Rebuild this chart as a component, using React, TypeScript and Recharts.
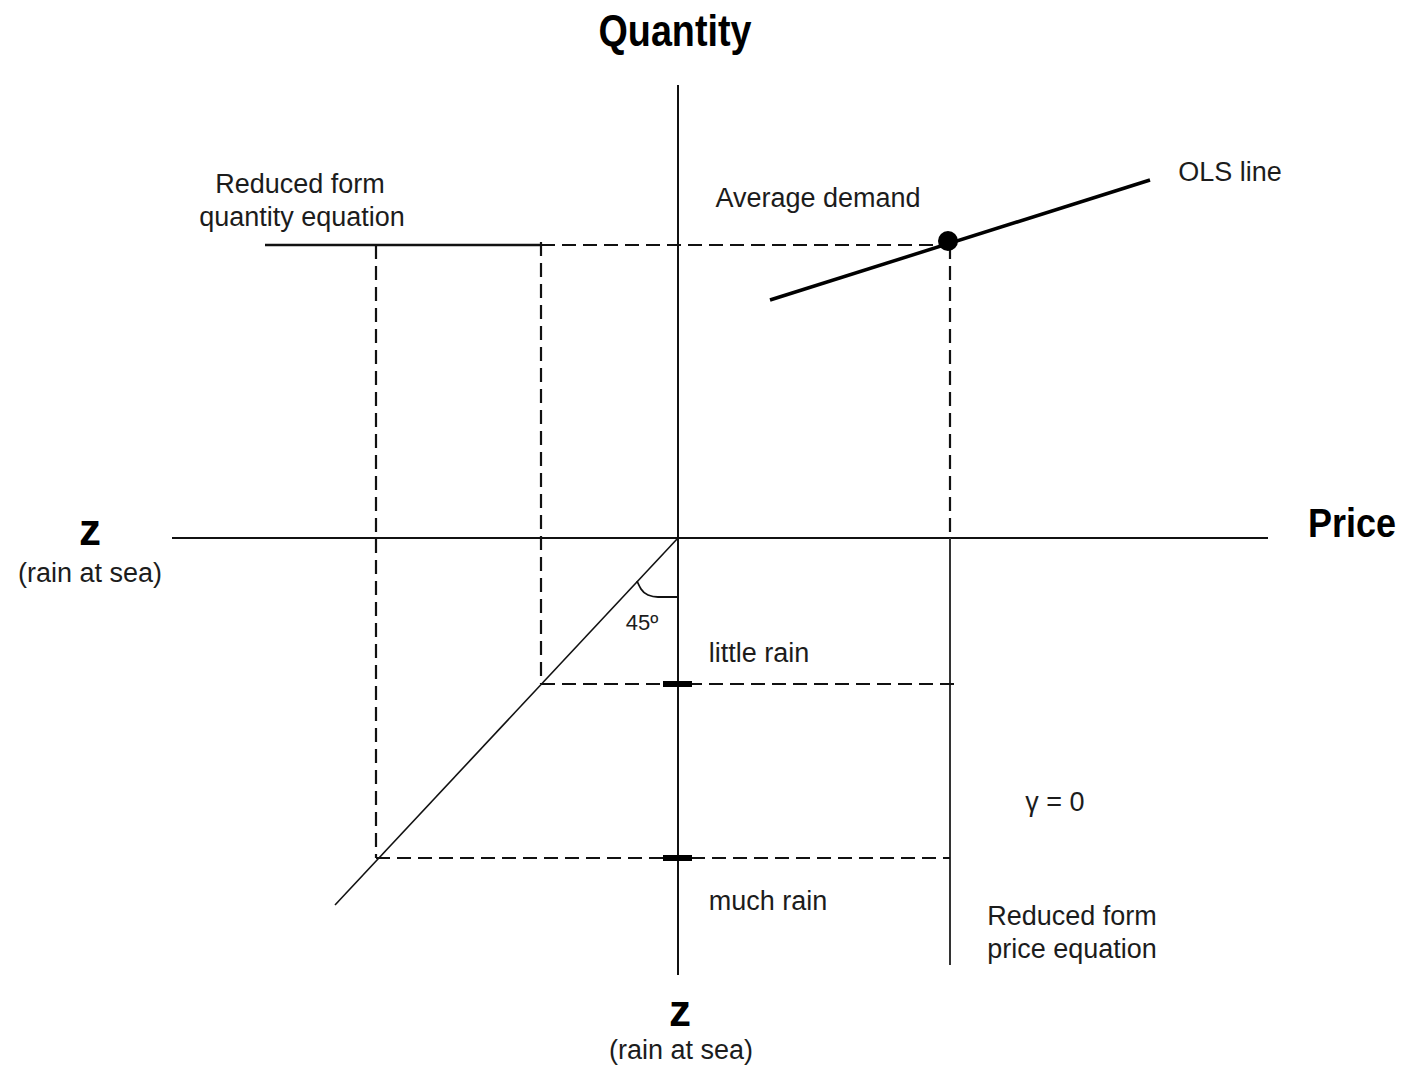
import React from "react";
import { ComposedChart, XAxis, YAxis, ReferenceLine, ReferenceDot, Scatter } from "recharts";

// data coordinates: origin where the price and quantity axes cross
type Pt = { x: number; y: number };
type Seg = [Pt, Pt];

const axisSegments: Seg[] = [
  [{ x: 0, y: 453 }, { x: 0, y: -437 }],
  [{ x: -506, y: 0 }, { x: 590, y: 0 }],
];

const quantityEquation: Seg = [{ x: -413, y: 293 }, { x: -137, y: 293 }];
const priceEquation: Seg = [{ x: 272, y: 0 }, { x: 272, y: -427 }];

const diagonal: Seg = [{ x: 0, y: 0 }, { x: -343, y: -367 }];
const olsLine: Seg = [{ x: 92, y: 238 }, { x: 472, y: 358 }];

const dashedSegments: Seg[] = [
  [{ x: -137, y: 293 }, { x: 272, y: 293 }],
  [{ x: -302, y: 293 }, { x: -302, y: -320 }],
  [{ x: -137, y: 296 }, { x: -137, y: -146 }],
  [{ x: 272, y: 293 }, { x: 272, y: 0 }],
  [{ x: -137, y: -146 }, { x: 277, y: -146 }],
  [{ x: -302, y: -320 }, { x: 272, y: -320 }],
];

const rainTicks: Seg[] = [
  [{ x: -15, y: -146 }, { x: 14, y: -146 }],
  [{ x: -15, y: -320 }, { x: 14, y: -320 }],
];

const angleArc: Pt[] = [
  { x: -41, y: -43 },
  { x: -37, y: -51 },
  { x: -30, y: -57 },
  { x: -20, y: -59 },
  { x: 0, y: -59 },
];

const averageDemand: Pt = { x: 270, y: 297 };

const labels = [
  { text: "Quantity", x: -3, y: 492, kind: "title" },
  { text: "Price", x: 674, y: 1, kind: "title" },
  { text: "z", x: -588, y: -7, kind: "var" },
  { text: "(rain at sea)", x: -588, y: -44, kind: "note" },
  { text: "z", x: 2, y: -488, kind: "var" },
  { text: "(rain at sea)", x: 3, y: -521, kind: "note" },
  { text: "Reduced form", x: -378, y: 345, kind: "note" },
  { text: "quantity equation", x: -376, y: 312, kind: "note" },
  { text: "Average demand", x: 140, y: 331, kind: "note" },
  { text: "OLS line", x: 552, y: 357, kind: "note" },
  { text: "45º", x: -36, y: -92, kind: "small" },
  { text: "little rain", x: 81, y: -124, kind: "note" },
  { text: "much rain", x: 90, y: -372, kind: "note" },
  { text: "γ = 0", x: 377, y: -273, kind: "note" },
  { text: "Reduced form", x: 394, y: -387, kind: "note" },
  { text: "price equation", x: 394, y: -420, kind: "note" },
];

const titleFit: Record<string, { size: number; width: number }> = {
  Quantity: { size: 44, width: 153 },
  Price: { size: 40, width: 88 },
};

const FONT = "'Liberation Sans', Arial, sans-serif";

function LabelText(props: any) {
  const { cx, cy, payload } = props;
  const kind = payload.kind;
  const fit = kind === "title" ? titleFit[payload.text] : undefined;
  const size = fit ? fit.size : kind === "var" ? 44 : kind === "small" ? 22 : 27;
  const bold = kind === "title" || kind === "var";
  return (
    <text
      x={cx}
      y={cy}
      textAnchor="middle"
      fontFamily={FONT}
      fontSize={size}
      fontWeight={bold ? 700 : 400}
      fill={bold ? "#000" : "#1c1c1c"}
      textLength={fit ? fit.width : undefined}
      lengthAdjust={fit ? "spacingAndGlyphs" : undefined}
    >
      {payload.text}
    </text>
  );
}

export default function App() {
  return (
    <div style={{ position: "absolute", left: 0, top: 0, width: 1408, height: 1073, background: "#fff" }}>
      <ComposedChart width={1408} height={1073} margin={{ top: 0, right: 0, bottom: 0, left: 0 }}>
        <XAxis type="number" dataKey="x" domain={[-678, 730]} allowDataOverflow hide />
        <YAxis type="number" dataKey="y" domain={[-535, 538]} allowDataOverflow hide />

        {axisSegments.map((s, i) => (
          <ReferenceLine key={"ax" + i} segment={s} stroke="#111" strokeWidth={2} ifOverflow="visible" />
        ))}
        <ReferenceLine segment={quantityEquation} stroke="#111" strokeWidth={2.5} ifOverflow="visible" />
        <ReferenceLine segment={priceEquation} stroke="#333" strokeWidth={2} ifOverflow="visible" />
        {dashedSegments.map((s, i) => (
          <ReferenceLine key={"da" + i} segment={s} stroke="#111" strokeWidth={2.2} strokeDasharray="14 7" ifOverflow="visible" />
        ))}
        <ReferenceLine segment={diagonal} stroke="#111" strokeWidth={1.6} ifOverflow="visible" />
        <ReferenceLine segment={olsLine} stroke="#000" strokeWidth={3.5} ifOverflow="visible" />
        {rainTicks.map((s, i) => (
          <ReferenceLine key={"tk" + i} segment={s} stroke="#000" strokeWidth={6} ifOverflow="visible" />
        ))}

        <Scatter
          data={angleArc}
          line={{ stroke: "#111", strokeWidth: 1.8 }}
          lineJointType="monotoneX"
          shape={() => <g />}
          isAnimationActive={false}
        />
        <ReferenceDot x={averageDemand.x} y={averageDemand.y} r={10} fill="#000" stroke="none" ifOverflow="visible" />

        <Scatter data={labels} shape={(p: any) => <LabelText {...p} />} isAnimationActive={false} />
      </ComposedChart>
    </div>
  );
}
